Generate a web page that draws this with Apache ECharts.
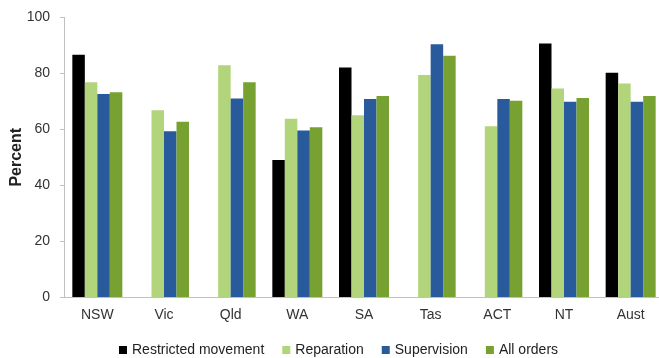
<!DOCTYPE html>
<html>
<head>
<meta charset="utf-8">
<script src="https://cdn.jsdelivr.net/npm/echarts@6/dist/echarts.min.js"></script>
<style>
  html, body { margin: 0; padding: 0; background: #ffffff; }
  #chart { width: 659px; height: 358px; }
</style>
</head>
<body>
<div id="chart"></div>
<script>
// Jurisdictions along the x axis
var categories = ['NSW', 'Vic', 'Qld', 'WA', 'SA', 'Tas', 'ACT', 'NT', 'Aust'];

// Percent of orders, by order type (null = no such order type)
var restrictedMovement = [86.7, null, null, 49.0, 82.1, null, null, 90.7, 80.2];
var reparation        = [76.8, 66.8, 82.9, 63.8, 65.0, 79.4, 61.1, 74.6, 76.4];
var supervision       = [72.6, 59.3, 71.0, 59.6, 70.8, 90.4, 70.8, 69.9, 69.9];
var allOrders         = [73.3, 62.7, 76.8, 60.7, 71.9, 86.3, 70.2, 71.2, 71.9];

// Y axis ticks
var yMin = 0, yMax = 100, yStep = 20;

var font = 'Liberation Sans, Arial, sans-serif';

function barSeries(name, data, color) {
  return {
    name: name,
    type: 'bar',
    data: data,
    barGap: '0%',
    barCategoryGap: '25%',
    itemStyle: { color: color },
    emphasis: { disabled: true }
  };
}

var chart = echarts.init(document.getElementById('chart'), null, { renderer: 'canvas' });
chart.setOption({
  animation: false,
  backgroundColor: '#ffffff',
  grid: {
    left: 64, top: 17.5, width: 600, bottom: 61,
    containLabel: false,
    outerBoundsMode: 'none'
  },
  legend: {
    left: 114,
    top: 338,
    itemWidth: 8,
    itemHeight: 8,
    itemGap: 18,
    icon: 'rect',
    textStyle: { fontFamily: font, fontSize: 14, color: '#222222' },
    data: ['Restricted movement', 'Reparation', 'Supervision', 'All orders']
  },
  xAxis: {
    type: 'category',
    data: categories,
    axisLine: { lineStyle: { color: '#c0c0c0', width: 1 } },
    axisTick: { show: false },
    axisLabel: { fontFamily: font, fontSize: 14, color: '#333333', margin: 11 }
  },
  yAxis: {
    type: 'value',
    min: yMin,
    max: yMax,
    interval: yStep,
    name: 'Percent',
    nameLocation: 'middle',
    nameGap: 39,
    nameMoveOverlap: false,
    nameTextStyle: { fontFamily: font, fontSize: 16, fontWeight: 'bold', color: '#222222' },
    axisLine: { show: true, lineStyle: { color: '#c0c0c0', width: 1 } },
    axisTick: { show: true, length: 4, lineStyle: { color: '#c0c0c0' } },
    splitLine: { show: false },
    axisLabel: { fontFamily: font, fontSize: 14, color: '#333333', margin: 14 }
  },
  series: [
    barSeries('Restricted movement', restrictedMovement, '#000000'),
    barSeries('Reparation', reparation, '#b2d47a'),
    barSeries('Supervision', supervision, '#295a9b'),
    barSeries('All orders', allOrders, '#77a232')
  ]
});
</script>
</body>
</html>
